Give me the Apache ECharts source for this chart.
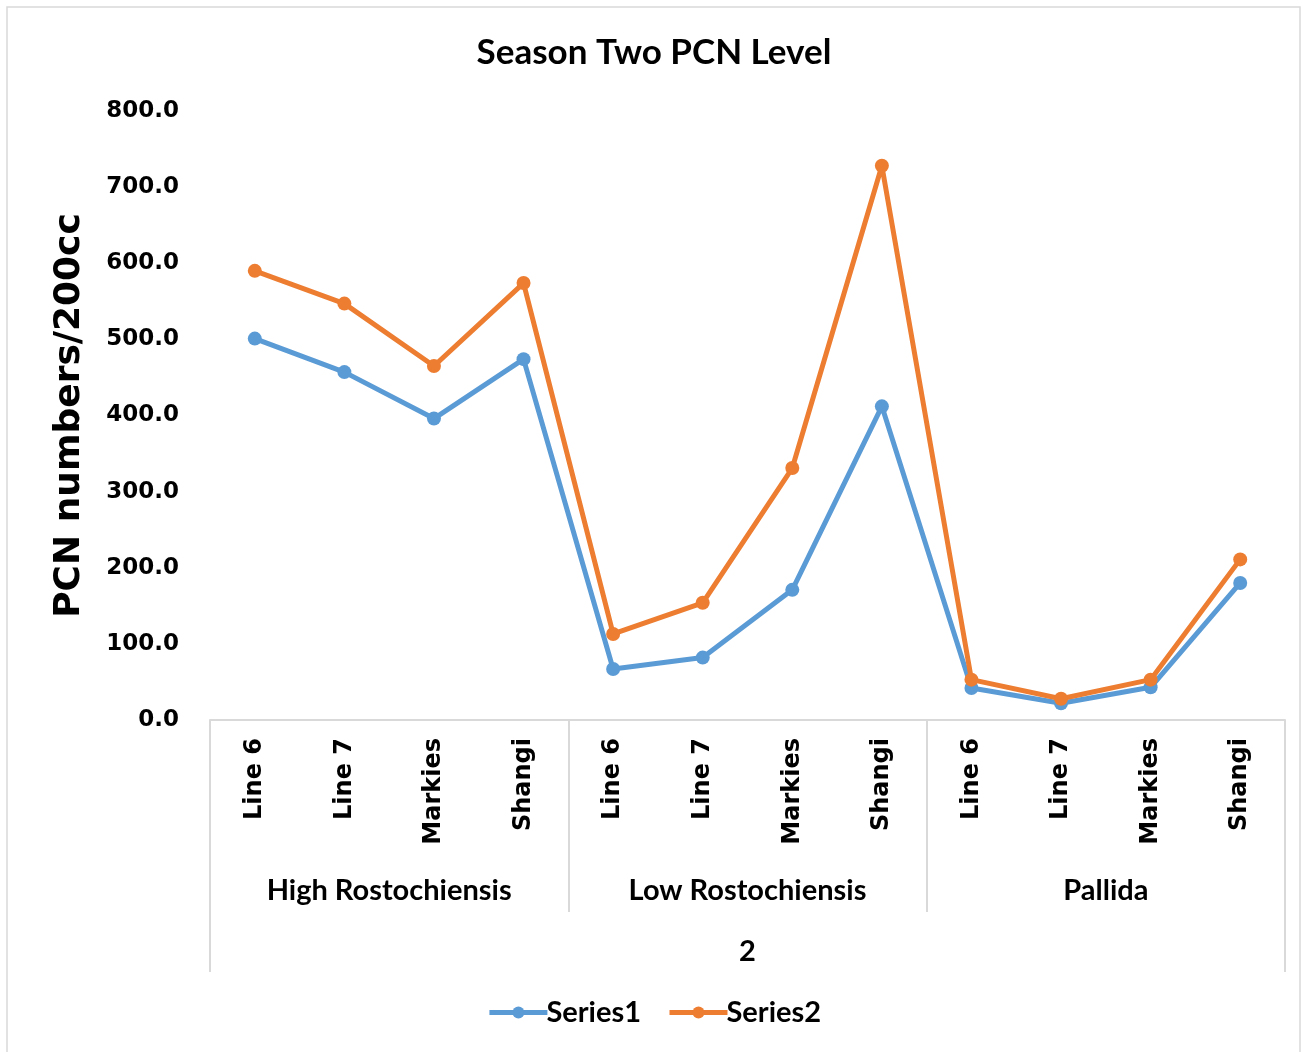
<!DOCTYPE html>
<html>
<head>
<meta charset="utf-8">
<script src="https://cdn.jsdelivr.net/npm/echarts@6/dist/echarts.min.js"></script>
<style>
  html, body { margin: 0; padding: 0; background: #fff; }
  #chart { width: 1308px; height: 1052px; }
</style>
</head>
<body>
<div id="chart"></div>
<script>
// chart data
var categories = ['Line 6', 'Line 7', 'Markies', 'Shangi',
                  'Line 6', 'Line 7', 'Markies', 'Shangi',
                  'Line 6', 'Line 7', 'Markies', 'Shangi'];
var groups = ['High Rostochiensis', 'Low Rostochiensis', 'Pallida'];
var season = ['2'];
var series1 = [501, 457, 396, 474, 67, 82, 171, 412, 42, 22, 43, 180];
var series2 = [590, 547, 465, 574, 113, 154, 331, 728, 53, 28, 53, 211];

var myChart = echarts.init(document.getElementById('chart'));

var boldSans = 'DejaVu Sans';
var calib = 'Lato';
var gridLine = { show: true, lineStyle: { color: '#d9d9d9', width: 2 } };

var option = {
    backgroundColor: '#fff',
    animation: false,
    title: {
        text: 'Season Two PCN Level',
        left: 'center',
        top: 30,
        textStyle: { fontFamily: calib, fontWeight: 'bold', fontSize: 35, color: '#000' }
    },
    legend: {
        bottom: 20,
        left: 'center',
        itemWidth: 58,
        itemHeight: 15,
        itemGap: 26,
        lineStyle: { width: 5 },
        textStyle: { fontFamily: calib, fontWeight: 'bold', fontSize: 29, color: '#000', padding: [0, 0, 0, -6] },
        data: ['Series1', 'Series2']
    },
    grid: { left: 210, right: 23, top: 111, bottom: 332 },
    xAxis: [{
        type: 'category',
        data: categories,
        axisLine: gridLine,
        axisTick: { show: false },
        axisLabel: {
            rotate: 90,
            margin: 18,
            interval: 0,
            fontFamily: boldSans,
            fontWeight: 'bold',
            fontSize: 24,
            color: '#000'
        }
    }, {
        type: 'category',
        data: groups,
        position: 'bottom',
        axisLine: { show: false },
        axisTick: { show: true, length: 192, lineStyle: { color: '#d9d9d9', width: 2 } },
        axisLabel: {
            margin: 156,
            interval: 0,
            fontFamily: calib,
            fontWeight: 'bold',
            fontSize: 29,
            color: '#000'
        }
    }, {
        type: 'category',
        data: season,
        position: 'bottom',
        axisLine: { show: false },
        axisTick: { show: true, length: 252, lineStyle: { color: '#d9d9d9', width: 2 } },
        axisLabel: {
            margin: 217,
            fontFamily: calib,
            fontWeight: 'bold',
            fontSize: 29,
            color: '#000'
        }
    }],
    yAxis: {
        type: 'value',
        min: 0,
        max: 800,
        interval: 100,
        name: 'PCN numbers/200cc',
        nameLocation: 'middle',
        nameGap: 122,
        nameTextStyle: { fontFamily: boldSans, fontWeight: 'bold', fontSize: 36, color: '#000' },
        axisLine: { show: false },
        axisTick: { show: false },
        splitLine: { show: false },
        axisLabel: {
            margin: 31,
            fontFamily: boldSans,
            fontWeight: 'bold',
            fontSize: 23,
            color: '#000',
            formatter: function (v) { return v.toFixed(1); }
        }
    },
    graphic: [{
        type: 'rect',
        shape: { x: 7, y: 7, width: 1293, height: 1050 },
        style: { fill: 'none', stroke: '#d9d9d9', lineWidth: 1.5 },
        silent: true
    }],
    series: [{
        name: 'Series1',
        type: 'line',
        data: series1,
        symbol: 'circle',
        symbolSize: 14,
        color: '#5b9bd5',
        lineStyle: { width: 5 }
    }, {
        name: 'Series2',
        type: 'line',
        data: series2,
        symbol: 'circle',
        symbolSize: 14,
        color: '#ed7d31',
        lineStyle: { width: 5 }
    }]
};

myChart.setOption(option);
</script>
</body>
</html>
